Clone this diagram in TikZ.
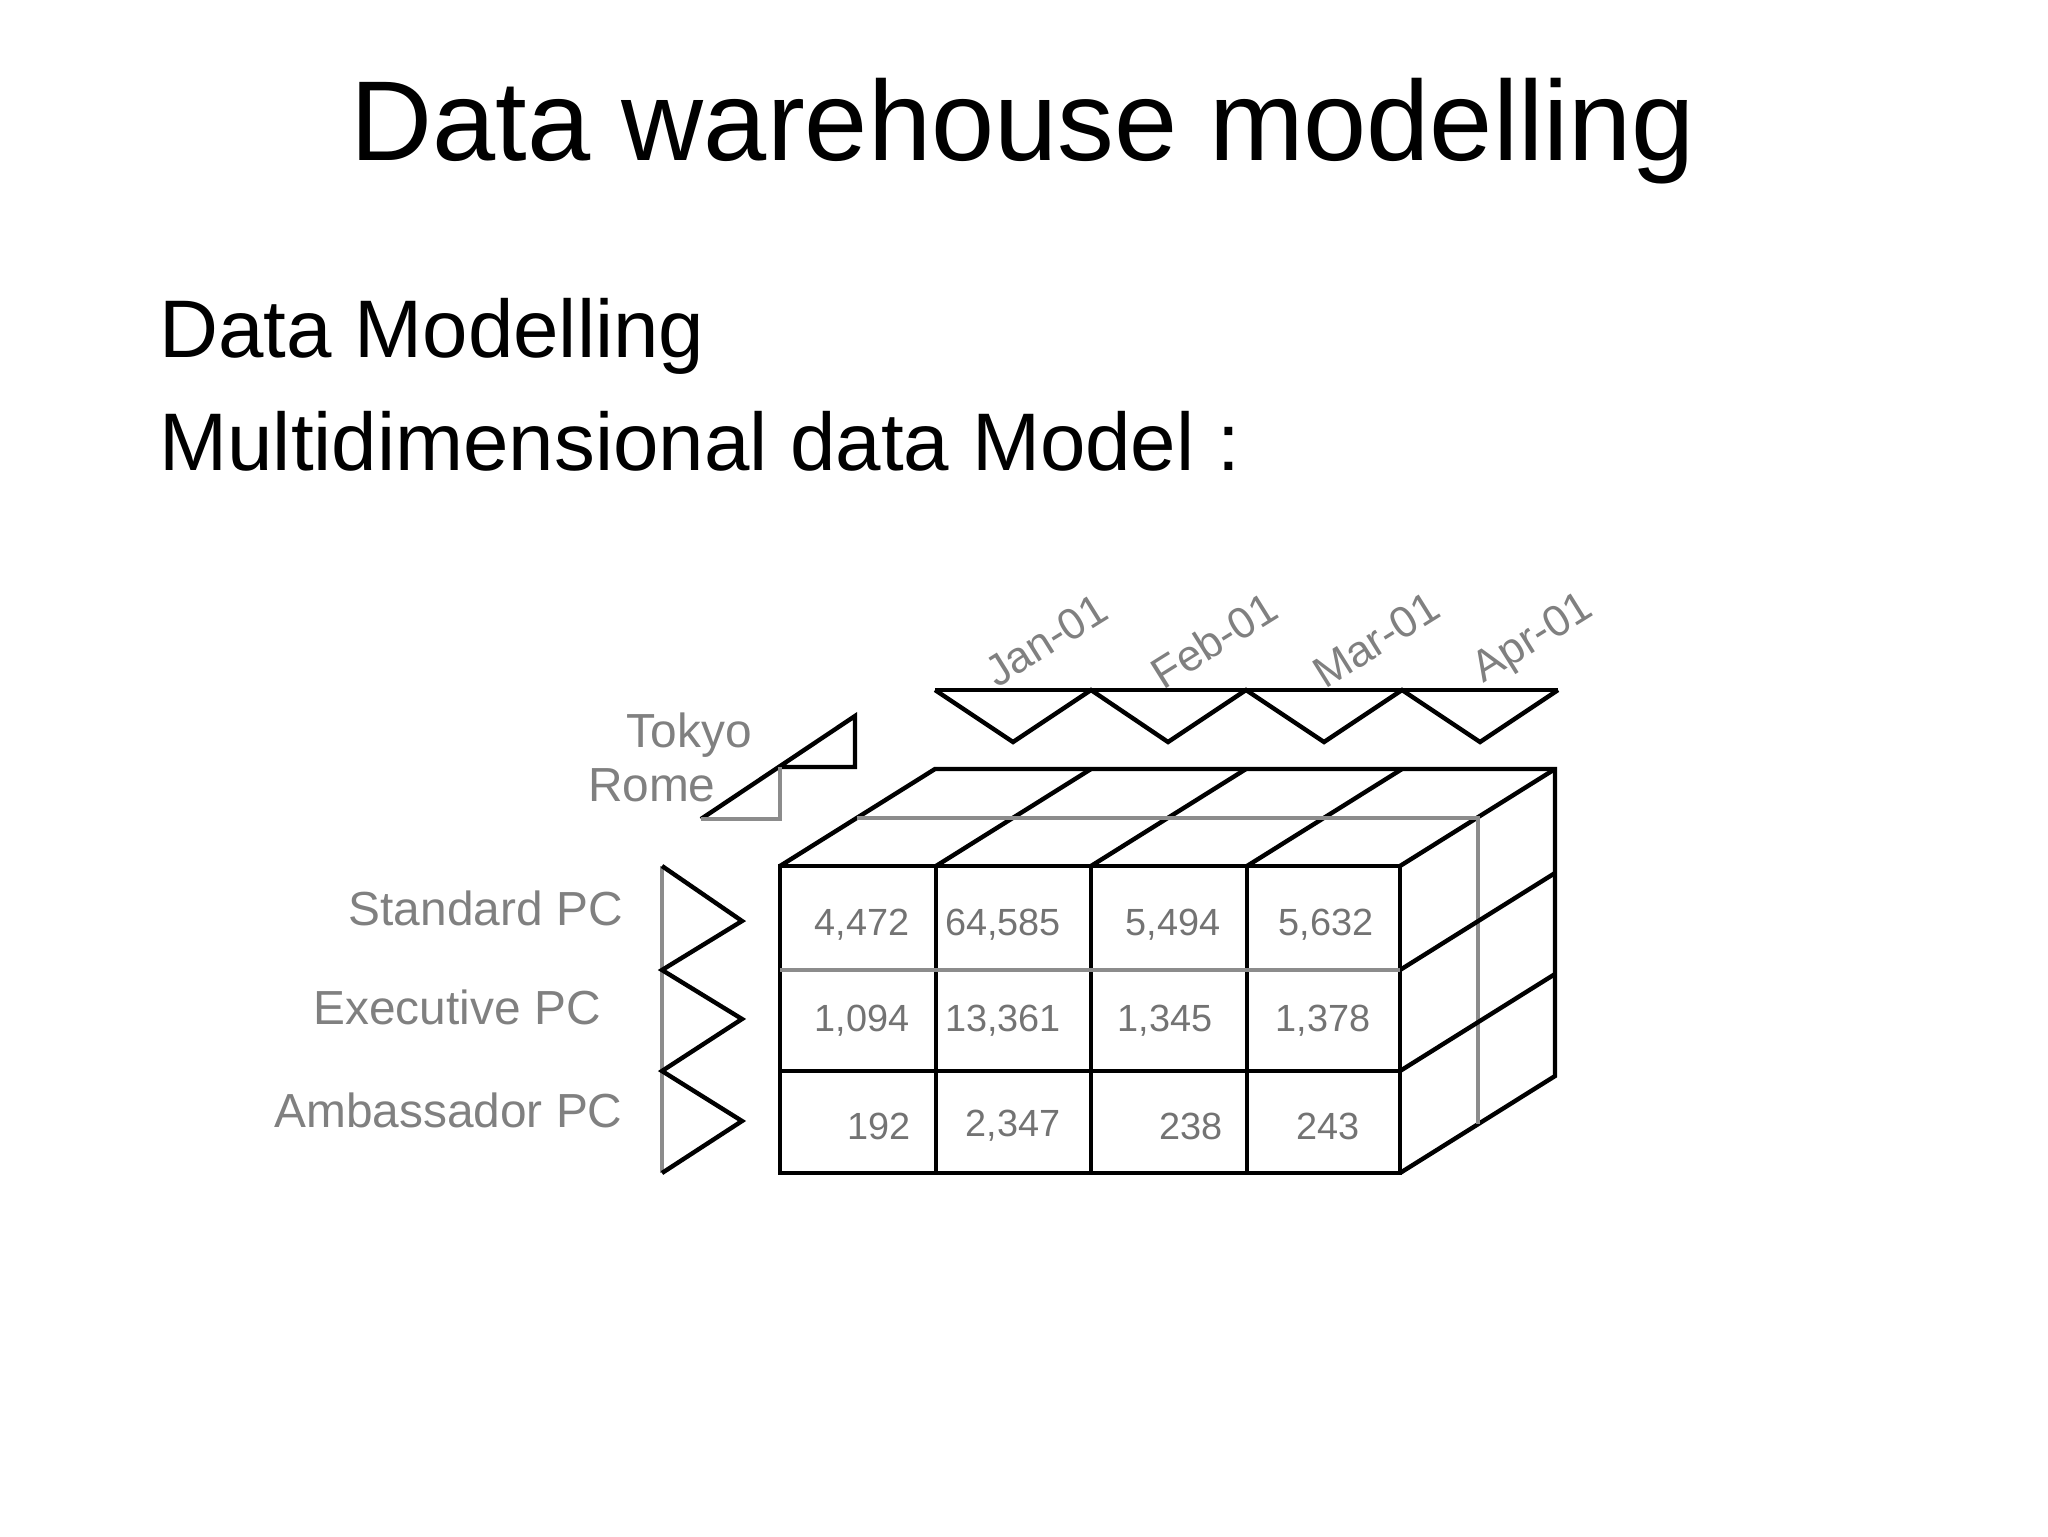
\documentclass[tikz,border=0pt]{standalone}
\usepackage{fontspec}
\setmainfont{Liberation Sans}
\begin{document}
\begin{tikzpicture}[x=0.5bp,y=-0.5bp,
  ln/.style={line width=2.2bp,black},
  gl/.style={line width=2.2bp,black!45},
  lbl/.style={text=black!50,font=\fontsize{24}{28}\selectfont,inner sep=0pt},
  mlbl/.style={text=black!50,font=\fontsize{22}{26}\selectfont,inner sep=0pt},
  num/.style={text=black!55,font=\fontsize{19}{22}\selectfont,inner sep=0pt}]
\useasboundingbox (0,0) rectangle (2048,1536);
\node[font=\fontsize{57}{64}\selectfont] (title) at (1023,131) {Data warehouse modelling};
\node[font=\fontsize{41}{48}\selectfont,anchor=base west,inner sep=0pt] (s1) at (159,357) {Data Modelling};
\node[font=\fontsize{41}{48}\selectfont,anchor=base west,inner sep=0pt] (s2) at (159,470) {Multidimensional data Model :};
% cube top face
\draw[ln] (780,866) -- (935,769) -- (1555,769) -- (1555,1076) -- (1400,1173);
\foreach \x in {936,1091,1247,1400}{\draw[ln] (\x,866) -- ++(155,-97);}
\draw[gl] (857,818) -- (1478,818) -- (1478,1124);
% right face rows
\draw[ln] (1400,970) -- (1555,873);
\draw[ln] (1400,1071) -- (1555,974);
% front grid
\draw[ln] (780,866) rectangle (1400,1173);
\foreach \x in {936,1091,1247}{\draw[ln] (\x,866) -- (\x,1173);}
\draw[gl] (780,970) -- (1400,970);
\draw[ln] (780,1071) -- (1400,1071);
% numbers
\foreach \x/\t in {862/{4,472},1003/{64,585},1173/{5,494},1326/{5,632}}{\node[num] at (\x,925) {\t};}
\foreach \x/\t in {862/{1,094},1003/{13,361},1165/{1,345},1323/{1,378}}{\node[num] at (\x,1021) {\t};}
\foreach \x/\t in {879/{192},1013/{2,347},1191/{238},1328/{243}}{\node[num] at (\x,1126) {\t};}
% time axis
\draw[ln] (935,690) -- (1558,690);
\draw[ln] (935,690) -- (1013,742) -- (1091,690) -- (1168,742) -- (1246,690) -- (1324,742) -- (1402,690) -- (1480,742) -- (1558,690);
\foreach \x/\t in {1046/Jan-01,1214/Feb-01,1376/Mar-01,1534/Apr-01}{\node[mlbl,rotate=32] at (\x,640) {\t};}
% location
\draw[ln] (701,819) -- (855,716) -- (855,767) -- (780,767);
\draw[gl] (780,767) -- (780,819) -- (701,819);
\node[lbl,anchor=east] (tokyo) at (752,735) {Tokyo};
\node[lbl,anchor=east] (rome) at (716,785) {Rome};
% products
\draw[gl] (662,866) -- (662,1173);
\draw[ln] (662,866) -- (742,921) -- (662,970) -- (742,1019) -- (662,1071) -- (742,1121) -- (662,1173);
\node[lbl,anchor=east] (p1) at (623,908) {Standard PC};
\node[lbl,anchor=east] (p2) at (601,1007) {Executive PC};
\node[lbl,anchor=east] (p3) at (623,1110) {Ambassador PC};
\end{tikzpicture}
\end{document}
